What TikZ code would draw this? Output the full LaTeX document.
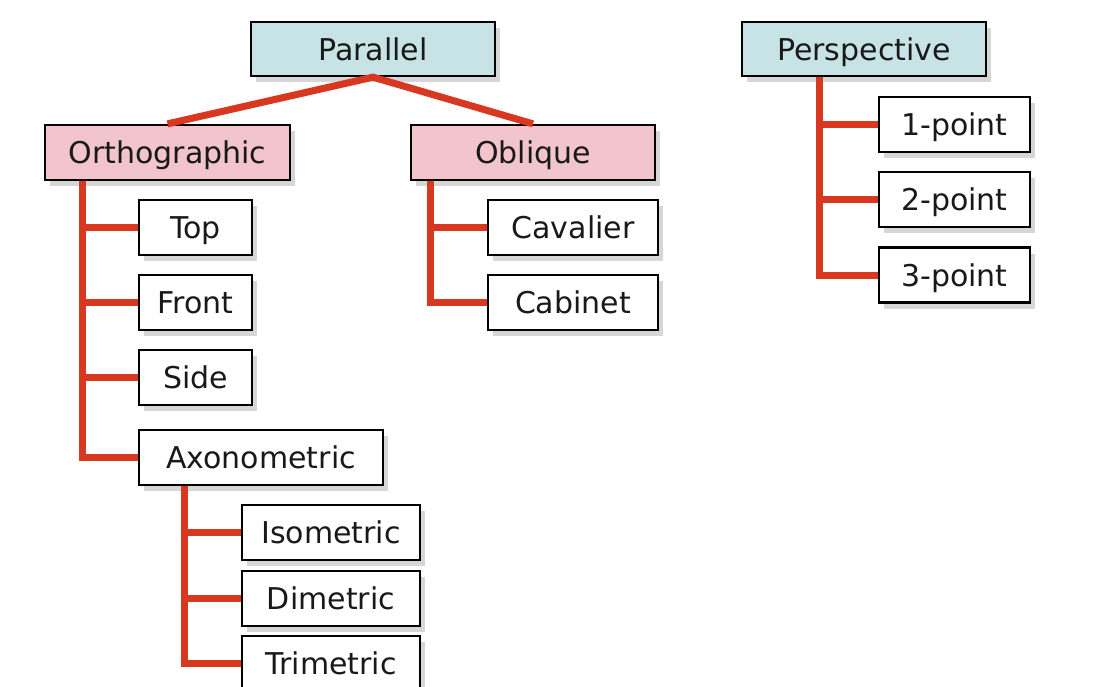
\documentclass[tikz,border=0pt]{standalone}
\usepackage{fontspec}
\setmainfont{DejaVu Sans}
\usepackage{xcolor}
\usetikzlibrary{positioning,calc,shadows}
\definecolor{headblue}{RGB}{200,227,229}
\definecolor{subpink}{RGB}{242,196,203}
\definecolor{treered}{RGB}{216,55,32}

\begin{document}
\begin{tikzpicture}[x=1pt,y=-1pt,
					box/.style={
						draw=black, line width=2.3pt, fill=white, text=black!90,
						minimum height=55pt, inner sep=0pt,
						text height=22pt, text depth=0pt,
						font=\fontsize{30}{34}\selectfont,
						anchor=center,
						drop shadow={fill=black!40, opacity=0.4, shadow xshift=5pt, shadow yshift=-6pt}
					},
					head/.style={box, fill=headblue, minimum width=244pt, minimum height=54pt},
					sub/.style={box, fill=subpink},
					branch/.style={draw=treered, line width=7pt, line join=miter}
					]
					\path[use as bounding box] (0,0) rectangle (1098,686);
					
					% top level
					\node[head] (parallel) at (373,49)  {Parallel};
					\node[head] (persp)    at (864,49)  {Perspective};
					
					% parallel -> orthographic / oblique
					\node[sub, minimum width=245pt] (ortho)   at (167.5,152.5) {Orthographic};
					\node[sub, minimum width=244pt] (oblique) at (533,152.5)   {Oblique};
					
					% orthographic views
					\node[box, minimum width=113pt] (top)   at (195.5,227.5) {Top};
					\node[box, minimum width=113pt] (front) at (195.5,302.5) {Front};
					\node[box, minimum width=113pt] (side)  at (195.5,377.5) {Side};
					\node[box, minimum width=244pt] (axono) at (261,457.5)   {Axonometric};
					
					% axonometric kinds
					\node[box, minimum width=178pt] (iso) at (331,532.5) {Isometric};
					\node[box, minimum width=178pt] (dim) at (331,598.5) {Dimetric};
					\node[box, minimum width=178pt] (tri) at (331,663.5) {Trimetric};
					
					% oblique kinds
					\node[box, minimum width=170pt] (cav) at (573,227.5) {Cavalier};
					\node[box, minimum width=170pt] (cab) at (573,302.5) {Cabinet};
					
					% perspective kinds
					\node[box, minimum width=151pt] (p1) at (954.5,124.5) {1-point};
					\node[box, minimum width=151pt] (p2) at (954.5,199.5) {2-point};
					\node[box, minimum width=151pt] (p3) at (954.5,275)   {3-point};
					
					% connectors
					\draw[branch] (ortho.north) -- (parallel.south) -- (oblique.north);
					
					\coordinate (oT) at ($(ortho.south west)+(39,0)$);
					\draw[branch] (oT) |- (axono.west);
					\foreach \n in {top,front,side}
					\draw[branch] (oT |- \n.west) -- (\n.west);
					
					\coordinate (bT) at ($(oblique.south west)+(21,0)$);
					\draw[branch] (bT) |- (cab.west);
					\draw[branch] (bT |- cav.west) -- (cav.west);
					
					\coordinate (aT) at ($(axono.south west)+(47,0)$);
					\draw[branch] (aT) |- (tri.west);
					\foreach \n in {iso,dim}
					\draw[branch] (aT |- \n.west) -- (\n.west);
					
					\coordinate (pT) at ($(persp.south west)+(79,0)$);
					\draw[branch] (pT) |- (p3.west);
					\foreach \n in {p1,p2}
					\draw[branch] (pT |- \n.west) -- (\n.west);
				\end{tikzpicture}
\end{document}
